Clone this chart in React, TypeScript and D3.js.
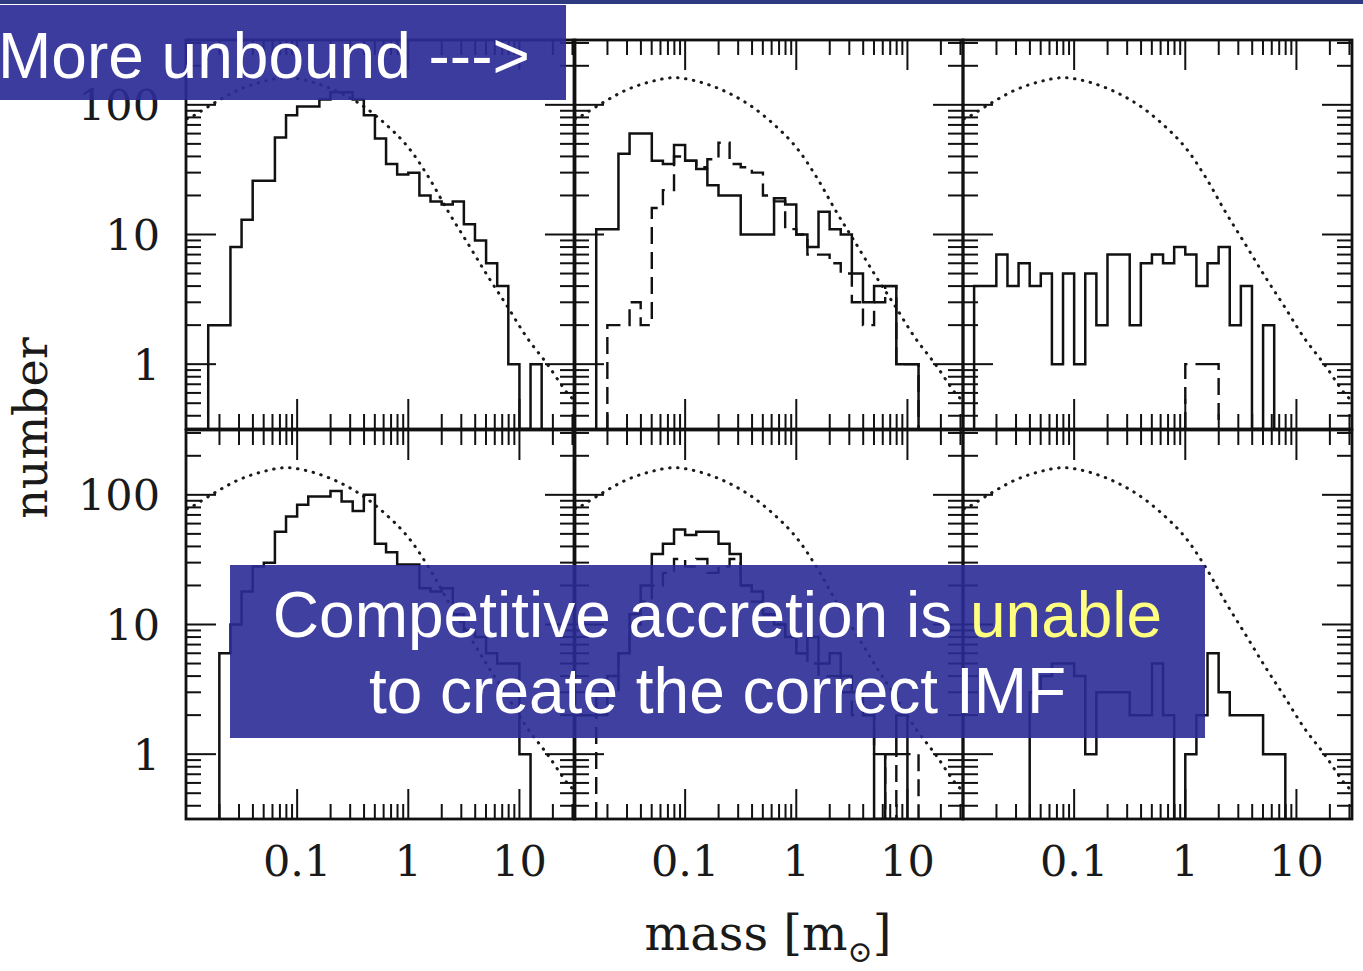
import React from "react";
import * as d3 from "d3";

// ---------- data ----------
// histogram bin edges, log10(mass / Msun), 0.1 dex bins
const binEdgesLog = [
  -2.0, -1.9, -1.8, -1.7, -1.6, -1.5, -1.4, -1.3, -1.2, -1.1, -1.0, -0.9,
  -0.8, -0.7, -0.6, -0.5, -0.4, -0.3, -0.2, -0.1, 0.0, 0.1, 0.2, 0.3, 0.4,
  0.5, 0.6, 0.7, 0.8, 0.9, 1.0, 1.1, 1.2, 1.3, 1.4, 1.5,
];

const topLeftSolid = [0, 0, 2, 2, 8, 13, 26, 26, 56, 83, 97, 97, 110, 125, 125, 110, 83, 55, 35, 29, 30, 20, 18, 17, 18, 12, 9, 6, 4, 1, 0, 1, 0, 0, 0];
const topMiddleSolid = [0, 0, 11, 11, 42, 60, 60, 37, 35, 49, 37, 32, 24, 20, 20, 10, 10, 10, 19, 17, 10, 8, 15, 11, 10, 5, 3, 4, 4, 1, 1, 0, 0, 0, 0];
const topMiddleDashed = [0, 0, 0, 2, 2, 3, 2, 16, 22, 40, 37, 33, 38, 51, 35, 33, 30, 20, 18, 11, 10, 7, 7, 6, 5, 3, 2, 3, 4, 1, 1, 0, 0, 0, 0];
const topRightSolid = [0, 4, 4, 7, 4, 6, 4, 5, 1, 5, 1, 5, 2, 7, 7, 2, 6, 7, 6, 8, 7, 4, 6, 8, 2, 4, 0, 2, 0, 0, 0, 0, 0, 0, 0];
const topRightDashed = [0, 0, 0, 0, 0, 0, 0, 0, 0, 0, 0, 0, 0, 0, 0, 0, 0, 0, 0, 0, 1, 1, 1, 0, 0, 0, 0, 0, 0, 0, 0, 0, 0, 0, 0];
const bottomLeftSolid = [0, 0, 0, 6, 10, 18, 28, 30, 52, 68, 84, 97, 97, 107, 89, 75, 100, 42, 36, 29, 29, 19, 18, 19, 12, 9, 8, 6, 5, 5, 1, 0, 0, 0, 0];
const bottomMiddleSolid = [2, 2, 3, 4, 6, 12, 20, 35, 42, 54, 49, 52, 52, 42, 35, 20, 18, 12, 10, 8, 6, 8, 5, 6, 4, 3, 2, 0, 1, 2, 0, 0, 0, 0, 0];
const bottomMiddleDashed = [0, 0, 2, 3, 6, 10, 15, 20, 25, 32, 28, 32, 25, 28, 32, 20, 15, 12, 10, 8, 6, 5, 4, 4, 3, 2, 2, 1, 0, 1, 1, 0, 0, 0, 0];
const bottomRightSolid = [0, 0, 0, 0, 0, 0, 3, 4, 5, 5, 4, 1, 3, 3, 3, 2, 2, 5, 2, 0, 1, 2, 6, 3, 2, 2, 2, 1, 1, 0, 0, 0, 0, 0, 0];

// reference IMF (dotted curve)
const imfMass = [0.0102, 0.0113, 0.0182, 0.0295, 0.0479, 0.0794, 0.135, 0.234, 0.398, 0.66, 1.0, 1.51, 2.29, 3.47, 5.25, 7.76, 11.7, 17.8, 26.9, 31.6];
const imfNumber = [78, 81, 104, 130, 150, 162, 150, 126, 97, 68, 47, 28, 15, 8.4, 4.7, 2.8, 1.6, 1.0, 0.6, 0.52];

const xMajorTicks = [0.1, 1, 10];
const xTickLabels = ["0.1", "1", "10"];
const xMinorTicks = [0.02, 0.03, 0.04, 0.05, 0.06, 0.07, 0.08, 0.09, 0.2, 0.3, 0.4, 0.5, 0.6, 0.7, 0.8, 0.9, 2, 3, 4, 5, 6, 7, 8, 9, 20, 30];
const yMajorTicks = [1, 10, 100];
const yTickLabels = ["1", "10", "100"];
const yMinorTicks = [0.4, 0.5, 0.6, 0.7, 0.8, 0.9, 2, 3, 4, 5, 6, 7, 8, 9, 20, 30, 40, 50, 60, 70, 80, 90, 200, 300];

const xDomain = [0.01, 31.6228];
const yDomain = [0.316228, 316.228];

const panelData = [
  { row: 0, col: 0, solid: topLeftSolid, dashed: null as number[] | null },
  { row: 0, col: 1, solid: topMiddleSolid, dashed: topMiddleDashed },
  { row: 0, col: 2, solid: topRightSolid, dashed: topRightDashed },
  { row: 1, col: 0, solid: bottomLeftSolid, dashed: null as number[] | null },
  { row: 1, col: 1, solid: bottomMiddleSolid, dashed: bottomMiddleDashed },
  { row: 1, col: 2, solid: bottomRightSolid, dashed: null as number[] | null },
];

// ---------- layout ----------
const W = 1363;
const H = 971;
const colX = [186, 574, 963];
const rowY = [40, 430];
const panelW = 389;
const panelH = 389;
const majorLen = 30;
const minorLen = 15;
const serif = "'DejaVu Serif', 'Liberation Serif', serif";
const sans = "'Liberation Sans', Arial, Helvetica, sans-serif";

function makeScales(row: number, col: number) {
  const x = d3.scaleLog().domain(xDomain).range([colX[col], colX[col] + panelW]);
  const y = d3.scaleLog().domain(yDomain).range([rowY[row] + panelH, rowY[row]]);
  return { x, y };
}

function histPath(counts: number[], x: any, y: any): string {
  const bottom = y.range()[0];
  const first = counts.findIndex((c) => c > 0);
  let last = counts.length - 1;
  while (last > 0 && counts[last] <= 0) last--;
  const pts: [number, number][] = [[x(Math.pow(10, binEdgesLog[first])), bottom]];
  for (let i = first; i <= last; i++) {
    pts.push([x(Math.pow(10, binEdgesLog[i])), counts[i] > 0 ? y(counts[i]) : bottom]);
  }
  pts.push([x(Math.pow(10, binEdgesLog[last + 1])), bottom]);
  return d3.line().curve(d3.curveStepAfter)(pts) || "";
}

function Panel({ row, col, solid, dashed }: any) {
  const { x, y } = makeScales(row, col);
  const x0 = colX[col];
  const x1 = colX[col] + panelW;
  const y0 = rowY[row];
  const y1 = rowY[row] + panelH;
  const clipId = `clip-${row}-${col}`;
  const imfLine = d3
    .line<number>()
    .x((_, i) => x(imfMass[i]))
    .y((d) => y(d))
    .curve(d3.curveCatmullRom)(imfNumber) || "";

  const ticks: JSX.Element[] = [];
  const addX = (v: number, len: number, key: string) => {
    const px = x(v);
    ticks.push(<line key={`b${key}`} x1={px} x2={px} y1={y1} y2={y1 - len} />);
    ticks.push(<line key={`t${key}`} x1={px} x2={px} y1={y0} y2={y0 + len} />);
  };
  const addY = (v: number, len: number, key: string) => {
    const py = y(v);
    ticks.push(<line key={`l${key}`} x1={x0} x2={x0 + len} y1={py} y2={py} />);
    ticks.push(<line key={`r${key}`} x1={x1} x2={x1 - len} y1={py} y2={py} />);
  };
  xMajorTicks.forEach((v, i) => addX(v, majorLen, `M${i}`));
  xMinorTicks.forEach((v, i) => addX(v, minorLen, `m${i}`));
  yMajorTicks.forEach((v, i) => addY(v, majorLen, `M${i}`));
  yMinorTicks.forEach((v, i) => addY(v, minorLen, `m${i}`));

  return (
    <g>
      <defs>
        <clipPath id={clipId}>
          <rect x={x0} y={y0} width={panelW} height={panelH} />
        </clipPath>
      </defs>
      <g clipPath={`url(#${clipId})`}>
        <path d={imfLine} fill="none" stroke="#1a1a1a" strokeWidth={3} strokeDasharray="0.5 7.5" strokeLinecap="round" />
        {dashed && (
          <path d={histPath(dashed, x, y)} fill="none" stroke="#111" strokeWidth={2.4} strokeDasharray="17 8" />
        )}
        <path d={histPath(solid, x, y)} fill="none" stroke="#111" strokeWidth={2.5} />
      </g>
      <g stroke="#111" strokeWidth={2}>{ticks}</g>
      <rect x={x0} y={y0} width={panelW} height={panelH} fill="none" stroke="#111" strokeWidth={2.8} />
    </g>
  );
}

export default function App() {
  const colScales = [0, 1, 2].map((c) => makeScales(1, c).x);
  const rowScales = [0, 1].map((r) => makeScales(r, 0).y);
  return (
    <svg
      width={W}
      height={H}
      viewBox={`0 0 ${W} ${H}`}
      style={{ position: "absolute", left: 0, top: 0, display: "block", background: "#fff" }}
    >
      <rect x={0} y={0} width={W} height={H} fill="#fff" />
      {panelData.map((p) => (
        <Panel key={`${p.row}-${p.col}`} {...p} />
      ))}

      {/* y tick labels */}
      {rowScales.map((ys, r) =>
        yMajorTicks.map((v, i) => (
          <text
            key={`yl${r}-${i}`}
            x={160}
            y={ys(v)}
            dy="0.36em"
            textAnchor="end"
            fontFamily={serif}
            fontSize={43}
            fill="#1a1a1a"
          >
            {yTickLabels[i]}
          </text>
        ))
      )}

      {/* x tick labels */}
      {colScales.map((xs, c) =>
        xMajorTicks.map((v, i) => (
          <text
            key={`xl${c}-${i}`}
            x={xs(v)}
            y={876}
            textAnchor="middle"
            fontFamily={serif}
            fontSize={43}
            fill="#1a1a1a"
          >
            {xTickLabels[i]}
          </text>
        ))
      )}

      {/* axis titles */}
      <text
        transform="translate(47,428) rotate(-90)"
        textAnchor="middle"
        fontFamily={serif}
        fontSize={46}
        fill="#1a1a1a"
      >
        number
      </text>
      <text x={768} y={950} textAnchor="middle" fontFamily={serif} fontSize={48} fill="#1a1a1a">
        mass [m
        <tspan fontSize={30} dy={12}>⊙</tspan>
        <tspan dy={-12}>]</tspan>
      </text>

      {/* overlays */}
      <rect x={0} y={0} width={W} height={4} fill="#2e3b80" />
      <rect x={0} y={5} width={566} height={95} fill="#2b2b96" opacity={0.92} />
      <text x={-2} y={78} fontFamily={sans} fontSize={64} fill="#ffffff">
        More unbound ---&gt;
      </text>

      <rect x={230} y={565} width={975} height={173} fill="#2b2b96" opacity={0.9} />
      <text x={717.5} y={637} textAnchor="middle" fontFamily={sans} fontSize={64} fill="#ffffff">
        Competitive accretion is <tspan fill="#ffff80">unable</tspan>
      </text>
      <text x={717.5} y={713} textAnchor="middle" fontFamily={sans} fontSize={64} fill="#ffffff">
        to create the correct IMF
      </text>
    </svg>
  );
}
